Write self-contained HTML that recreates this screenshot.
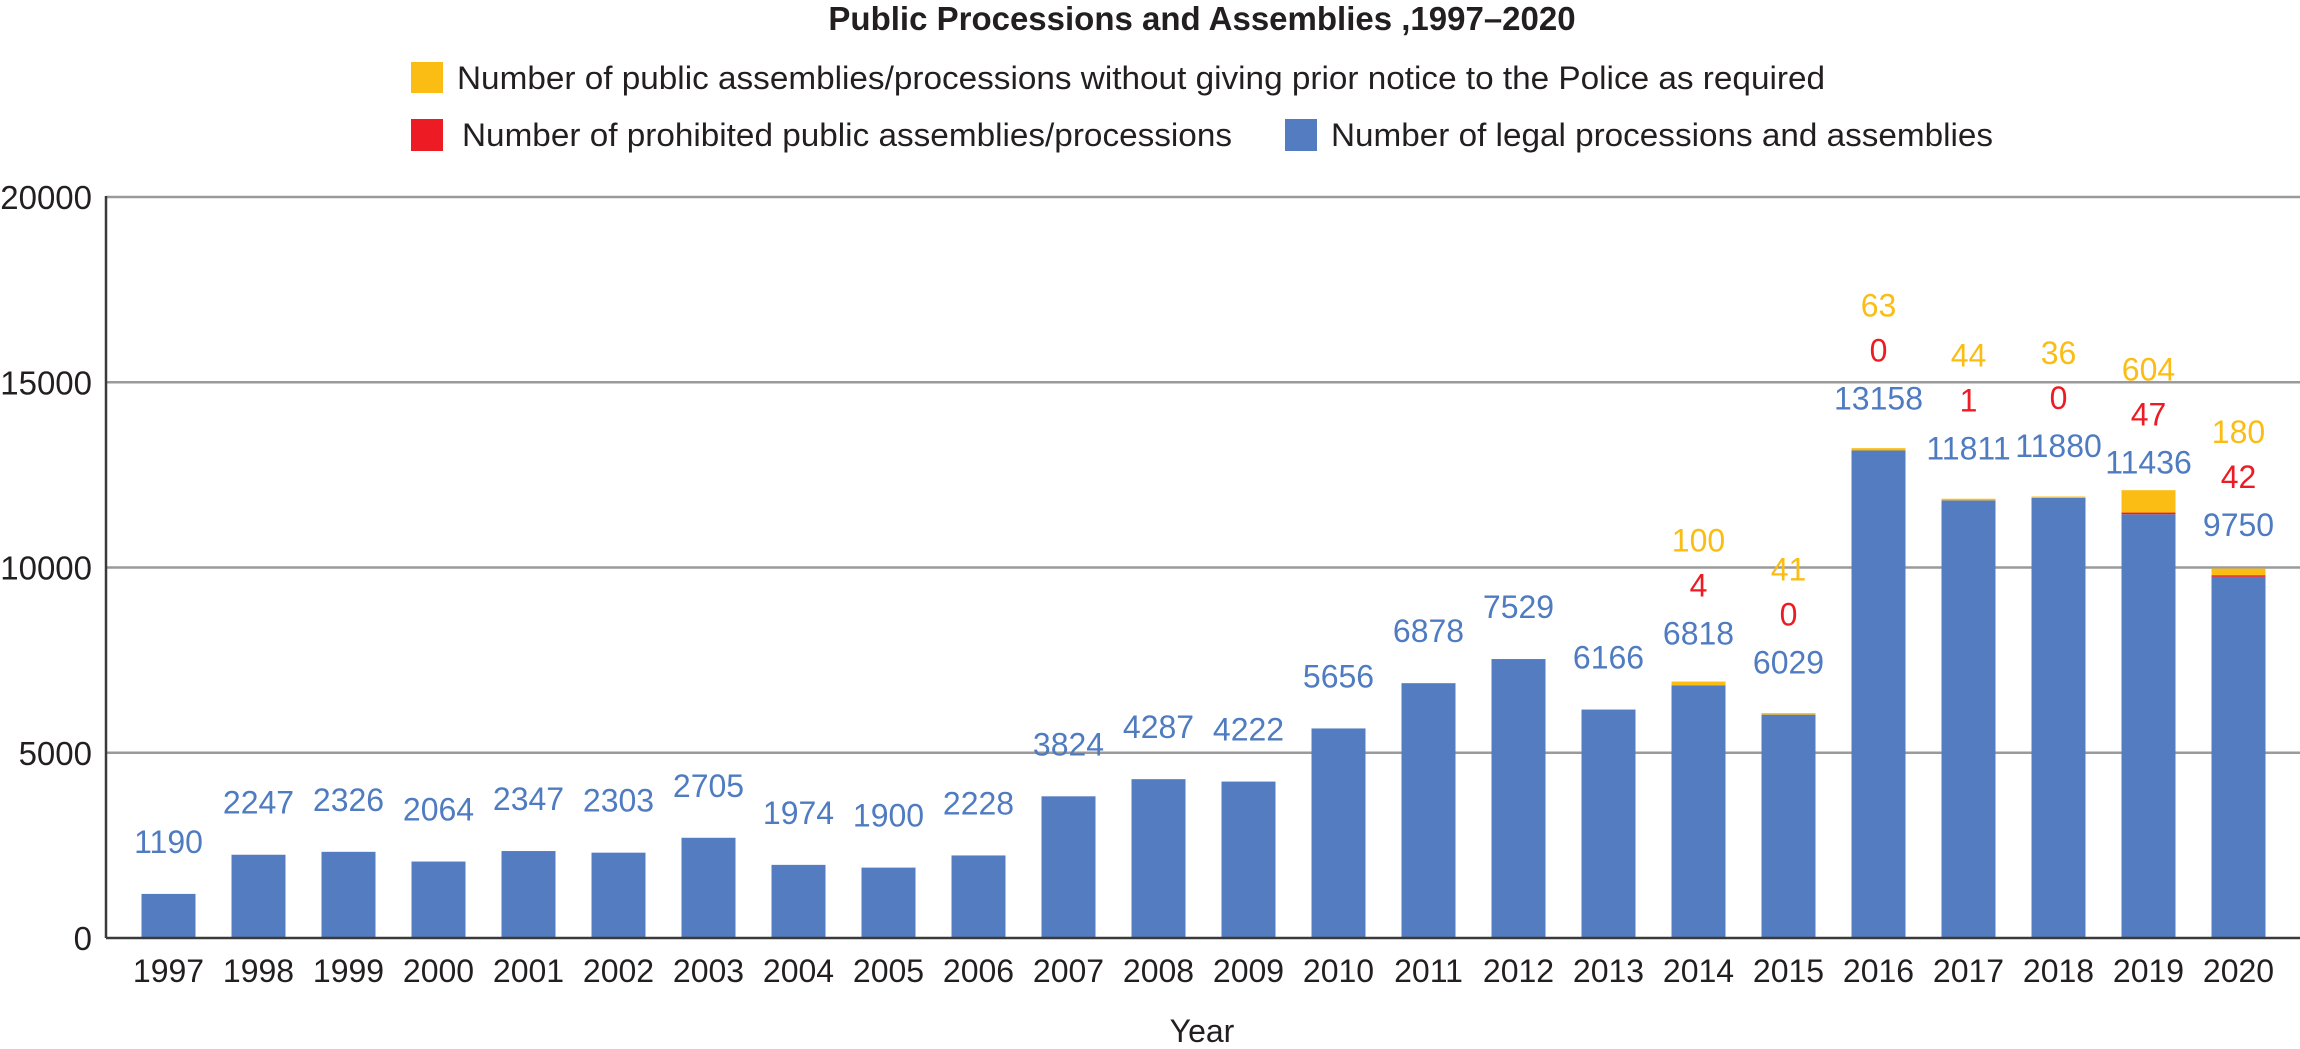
<!DOCTYPE html>
<html><head><meta charset="utf-8"><style>
html,body{margin:0;padding:0;background:#fff;}
svg{display:block;font-family:"Liberation Sans",Arial,sans-serif;}
</style></head><body>
<svg id="chart" width="2300" height="1049" viewBox="0 0 2300 1049" xmlns="http://www.w3.org/2000/svg">
<text x="1202" y="30" text-anchor="middle" font-size="33" font-weight="bold" fill="#231f20">Public Processions and Assemblies ,1997–2020</text>
<g>
<rect x="411" y="62" width="32" height="31" fill="#fbbd14"/>
<text x="457" y="89" font-size="32" fill="#231f20" textLength="1368" lengthAdjust="spacingAndGlyphs">Number of public assemblies/processions without giving prior notice to the Police as required</text>
<rect x="411" y="119" width="32" height="32" fill="#ed1c24"/>
<text x="462" y="146" font-size="32" fill="#231f20" textLength="770" lengthAdjust="spacingAndGlyphs">Number of prohibited public assemblies/processions</text>
<rect x="1285" y="119" width="32" height="32" fill="#537dc0"/>
<text x="1331" y="146" font-size="32" fill="#231f20" textLength="662" lengthAdjust="spacingAndGlyphs">Number of legal processions and assemblies</text>
</g>
<g id="grid"></g>
<g id="bars"></g>
<g id="labels"></g>
<g id="axes"></g>
<text x="1202" y="1042" text-anchor="middle" font-size="32" fill="#231f20">Year</text>
</svg>
<script>
const years = ["1997","1998","1999","2000","2001","2002","2003","2004","2005","2006","2007","2008","2009","2010","2011","2012","2013","2014","2015","2016","2017","2018","2019","2020"];
const legal = [1190,2247,2326,2064,2347,2303,2705,1974,1900,2228,3824,4287,4222,5656,6878,7529,6166,6818,6029,13158,11811,11880,11436,9750];
const prohibited = [null,null,null,null,null,null,null,null,null,null,null,null,null,null,null,null,null,4,0,0,1,0,47,42];
const unnotified = [null,null,null,null,null,null,null,null,null,null,null,null,null,null,null,null,null,100,41,63,44,36,604,180];
const yTicks = [0,5000,10000,15000,20000];

const NS = "http://www.w3.org/2000/svg";
const x0 = 106, x1 = 2300, yBase = 938, yTop = 197, yMax = 20000;
const firstCenter = 168.5, step = 90, barW = 54;
const xC = i => firstCenter + i * step;
const yS = v => yBase - (v / yMax) * (yBase - yTop);
function mk(tag, attrs, parent, text) {
  const el = document.createElementNS(NS, tag);
  for (const k in attrs) el.setAttribute(k, attrs[k]);
  if (text !== undefined) el.textContent = text;
  parent.appendChild(el);
  return el;
}
const grid = document.getElementById('grid'), bars = document.getElementById('bars'),
      labels = document.getElementById('labels'), axes = document.getElementById('axes');
yTicks.forEach(t => {
  const y = yS(t);
  if (t > 0) {
    const g = mk('line', {x1: x0, x2: x1, y1: y, y2: y, stroke: '#9a9a9a', 'stroke-width': 2.5}, grid);
    
    
  }
  const tl = mk('text', {x: 92, y: y + 12, 'text-anchor': 'end', 'font-size': 33, fill: '#231f20'}, axes, String(t));
  
  
});
const ya = mk('line', {x1: x0, x2: x0, y1: yTop - 1, y2: yBase, stroke: '#3a3a3a', 'stroke-width': 2.5}, axes);


const xa = mk('line', {x1: x0, x2: x1, y1: yBase, y2: yBase, stroke: '#3a3a3a', 'stroke-width': 2.5}, axes);



years.forEach((yr, i) => {
  const cx = xC(i), bx = cx - barW / 2;
  const p = prohibited[i] || 0, u = unnotified[i] || 0, l = legal[i];
  const b = mk('rect', {x: bx, y: yS(l), width: barW, height: yBase - yS(l), fill: '#537dc0'}, bars);
  
  
  if (p > 0) {
    const r = mk('rect', {x: bx, y: yS(l + p), width: barW, height: yS(l) - yS(l + p), fill: '#ed1c24'}, bars);
    
    
  }
  if (u > 0) {
    const yy = mk('rect', {x: bx, y: yS(l + p + u), width: barW, height: yS(l + p) - yS(l + p + u), fill: '#fbbd14'}, bars);
    
    
  }
  const by = yS(l) - 52;
  const lb = mk('text', {x: cx, y: by + 11, 'text-anchor': 'middle', 'font-size': 32, fill: '#4f7bc0'}, labels, String(l));
  
  
  if (prohibited[i] !== null) {
    const lr = mk('text', {x: cx, y: by - 48 + 11, 'text-anchor': 'middle', 'font-size': 32, fill: '#ed1c24'}, labels, String(prohibited[i]));
    
    
  }
  if (unnotified[i] !== null) {
    const ly = mk('text', {x: cx, y: by - 93 + 11, 'text-anchor': 'middle', 'font-size': 32, fill: '#fbbd14'}, labels, String(unnotified[i]));
    
    
  }
  const xl = mk('text', {x: cx, y: 982, 'text-anchor': 'middle', 'font-size': 32, fill: '#231f20'}, axes, yr);
  
  
});
</script>
</body></html>
